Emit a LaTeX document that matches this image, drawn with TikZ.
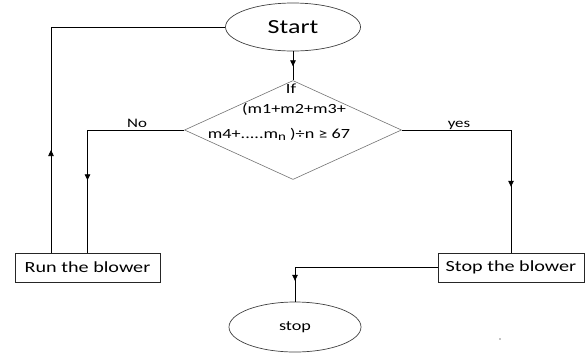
\documentclass[tikz,border=0pt]{standalone}
\usepackage{fontspec}
\setmainfont[FakeStretch=1.3]{Carlito}
\usetikzlibrary{shapes.geometric,arrows.meta,decorations.markings}
\newcommand{\lowsub}[1]{\raisebox{-2.5pt}{\fontsize{11.5}{13}\selectfont #1}}
\begin{document}
\begin{tikzpicture}[x=1pt,y=-1pt,
  term/.style={ellipse,draw=black!75,line width=0.7pt,inner sep=0pt},
  proc/.style={rectangle,draw=black!85,line width=0.7pt,inner sep=0pt,minimum height=29pt},
  decide/.style={diamond,draw=black!55,line width=0.6pt,inner sep=0pt,minimum width=217pt,minimum height=99pt},
  link/.style={draw=black,line width=0.7pt},
  arrowat/.style={postaction={decorate},decoration={markings,mark=at position #1 with {\arrow{Triangle[length=6pt,width=5.5pt]}}}},
  lbl/.style={inner sep=0pt,font=\fontsize{14}{16}\selectfont},
  branch/.style={inner sep=0pt,font=\fontsize{13}{15}\selectfont}]
\useasboundingbox (0,0) rectangle (586,354);
% terminals
\node[term,minimum width=135pt,minimum height=48pt,font=\fontsize{20}{24}\selectfont] (start) at (293,27) {Start};
\node[term,minimum width=132pt,minimum height=50pt,font=\fontsize{14}{16}\selectfont] (end) at (295,327) {stop};
% decision
\node[decide] (cond) at (293,130) {};
\node[lbl,anchor=base] (c1) at (291,93) {If};
\node[lbl,anchor=base] (c2) at (294,113) {(m1+m2+m3+};
\node[lbl,anchor=base] (c3) at (279,138) {m4+.....m\lowsub{n} )÷n ≥ 67};
% actions
\node[proc,minimum width=145pt,font=\fontsize{15.5}{18}\selectfont] (run) at (87.5,267.5) {Run the blower};
\node[proc,minimum width=146pt,font=\fontsize{15.5}{18}\selectfont] (halt) at (511,267.5) {Stop the blower};
% branch labels
\node[branch,anchor=base] (no) at (137,127) {No};
\node[branch,anchor=base] (yes) at (459,127) {yes};
% connectors
\coordinate (loop) at (51,253);
\path[link,arrowat=15pt] (start.south) -- (cond.north);
\path[link,arrowat=147pt] (cond.west) -| (run.north);
\path[link,arrowat=166pt] (cond.east) -| (halt.north);
\path[link,arrowat=156pt] (halt.west) -| (end.north);
\path[link,arrowat=103pt] (loop) |- (start.west);
% stray mark
\fill (500,339) circle (0.6pt);
\end{tikzpicture}
\end{document}
